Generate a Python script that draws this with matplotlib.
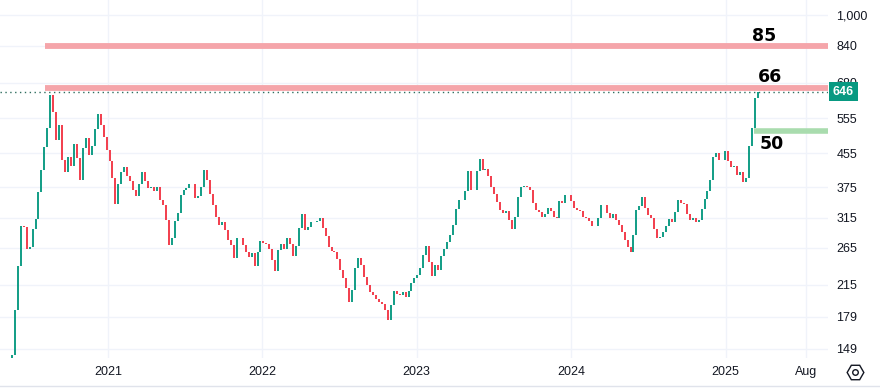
import pandas as pd
import matplotlib.pyplot as plt
from matplotlib.lines import Line2D
from matplotlib.ticker import FixedLocator, NullLocator, NullFormatter

# Fechamentos semanais (escala log)
inicio = '2020-05-19'
fechamentos = [
    144, 186, 239, 300, 299, 264, 266, 295, 312, 365,
    413, 470, 525, 635, 575, 490, 534, 438, 408, 445,
    423, 479, 442, 390, 468, 495, 450, 473, 522, 570,
    534, 498, 463, 435, 394, 340, 381, 408, 421, 399,
    388, 369, 356, 381, 408, 388, 372, 374, 367, 374,
    348, 338, 311, 269, 281, 309, 323, 358, 369, 372,
    381, 381, 352, 356, 374, 413, 390, 361, 338, 316,
    302, 307, 294, 277, 269, 250, 281, 281, 269, 259,
    252, 258, 239, 259, 275, 272, 271, 264, 247, 233,
    262, 271, 264, 281, 271, 253, 268, 297, 322, 294,
    299, 307, 307, 309, 314, 297, 284, 266, 260, 259,
    249, 234, 223, 211, 195, 209, 237, 250, 240, 225,
    215, 206, 203, 198, 195, 193, 186, 176, 191, 207,
    204, 203, 206, 200, 207, 217, 223, 227, 236, 255,
    268, 244, 226, 241, 234, 253, 264, 274, 286, 302,
    330, 348, 348, 367, 411, 369, 369, 411, 440, 413,
    416, 399, 374, 361, 344, 329, 323, 327, 311, 296,
    316, 354, 374, 377, 374, 369, 342, 329, 325, 316,
    321, 332, 327, 316, 314, 346, 342, 358, 358, 346,
    332, 329, 327, 316, 314, 309, 300, 300, 314, 338,
    338, 323, 314, 321, 311, 302, 291, 277, 266, 259,
    286, 329, 336, 354, 332, 320, 314, 296, 281, 282,
    291, 300, 312, 307, 325, 348, 342, 340, 321, 311,
    314, 307, 311, 331, 350, 367, 390, 445, 455, 438,
    438, 460, 435, 421, 423, 401, 408, 386, 394, 473,
    525, 622, 646,
]
ultimo_preco = 646

# Níveis desenhados no gráfico
niveis_vermelhos = [840, 660]
rotulos_vermelhos = ['85', '66']
inicio_vermelho = '2020-08-05'
nivel_verde = 515
rotulo_verde = '50'
inicio_verde = '2025-03-10'

# Eixos
ticks_preco = [149, 179, 215, 265, 315, 375, 455, 555, 680, 840, 1000]
anos = ['2021', '2022', '2023', '2024', '2025']
data_aug = '2025-07-10'

cor_alta = '#089981'
cor_baixa = '#F23645'
cor_grade = '#f0f3fa'
cor_texto = '#131722'

datas = pd.date_range(inicio, periods=len(fechamentos), freq='7D')
aberturas = [fechamentos[0]] + fechamentos[:-1]
cores = [cor_alta if c >= o else cor_baixa for o, c in zip(aberturas, fechamentos)]
minimos = [min(o, c) for o, c in zip(aberturas, fechamentos)]
maximos = [max(o, c) for o, c in zip(aberturas, fechamentos)]
minimos[0] = fechamentos[0] * 0.97

fig = plt.figure(figsize=(8.8, 3.89), dpi=100, facecolor='white')
ax = fig.add_axes([0, 31 / 389, 828 / 880, 358 / 389])
ax.set_facecolor('white')

ax.set_yscale('log')
ax.set_ylim(141.5, 1089)
x_esq = pd.Timestamp('2020-04-21')
x_dir = pd.Timestamp('2025-08-31')
ax.set_xlim(x_esq, x_dir)

# grade
for v in ticks_preco:
    ax.axhline(v, color=cor_grade, lw=1, zorder=0)
posicoes_x = [pd.Timestamp(a + '-01-01') for a in anos] + [pd.Timestamp(data_aug)]
for p in posicoes_x:
    ax.axvline(p, color=cor_grade, lw=1, zorder=0)

# níveis
datas_rotulo = ['2025-03-05', '2025-03-17']
for nivel, rotulo, d, dy in zip(niveis_vermelhos, rotulos_vermelhos, datas_rotulo, [7, 8]):
    ax.hlines(nivel, pd.Timestamp(inicio_vermelho), x_dir, color='#f5a5aa', lw=4.2, zorder=1)
    ax.annotate(rotulo, (pd.Timestamp(d), nivel),
                xytext=(0, dy), textcoords='offset points', ha='left', va='center',
                fontsize=12.5, weight='bold', color='black', family='DejaVu Sans')
ax.hlines(nivel_verde, pd.Timestamp(inicio_verde), x_dir, color='#a9dcae', lw=4.0, zorder=1)
ax.annotate(rotulo_verde, (pd.Timestamp('2025-03-23'), nivel_verde), xytext=(0, -9),
            textcoords='offset points', ha='left', va='center',
            fontsize=12.5, weight='bold', color='black', family='DejaVu Sans')

# linha do último preço
ax.axhline(ultimo_preco, color='#2f6f60', lw=1.0, ls=(0, (1, 2.5)), zorder=1)

# velas
ax.vlines(datas, minimos, maximos, colors=cores, lw=1.35, zorder=2)

# eixo y à direita
ax.yaxis.tick_right()
ax.yaxis.set_major_locator(FixedLocator(ticks_preco))
ax.yaxis.set_minor_locator(NullLocator())
ax.yaxis.set_minor_formatter(NullFormatter())
ax.set_yticklabels([f'{v:,}' for v in ticks_preco])
ax.tick_params(axis='y', length=0, pad=6, labelsize=9, labelcolor=cor_texto)

ax.set_xticks(posicoes_x)
ax.set_xticklabels(anos + ['Aug'])
ax.tick_params(axis='x', length=0, pad=6, labelsize=9, labelcolor=cor_texto)
for lbl in ax.get_xticklabels() + ax.get_yticklabels():
    lbl.set_family('Liberation Sans')

for s in ax.spines.values():
    s.set_visible(False)

# etiqueta do último preço
ax.annotate(str(ultimo_preco), xy=(1.0, ultimo_preco), xycoords=('axes fraction', 'data'),
            xytext=(11, 0), textcoords='offset points', ha='center', va='center',
            fontsize=9, weight='bold', color='white', family='Liberation Sans',
            annotation_clip=False,
            bbox=dict(boxstyle='square,pad=0.3', fc=cor_alta, ec='none'), zorder=5)

# ícone de configurações e linha inferior
fig.add_artist(Line2D([855 / 880], [1 - 372 / 389], marker='H', markersize=12, mfc='none',
                      mec=cor_texto, mew=1.0, transform=fig.transFigure))
fig.add_artist(Line2D([855 / 880], [1 - 372 / 389], marker='o', markersize=4, mfc='none',
                      mec=cor_texto, mew=1.0, transform=fig.transFigure))
fig.add_artist(Line2D([0, 1], [1 - 386 / 389, 1 - 386 / 389], color='#e0e3eb', lw=1,
                      transform=fig.transFigure))

fig.savefig('out.png', dpi=100)
